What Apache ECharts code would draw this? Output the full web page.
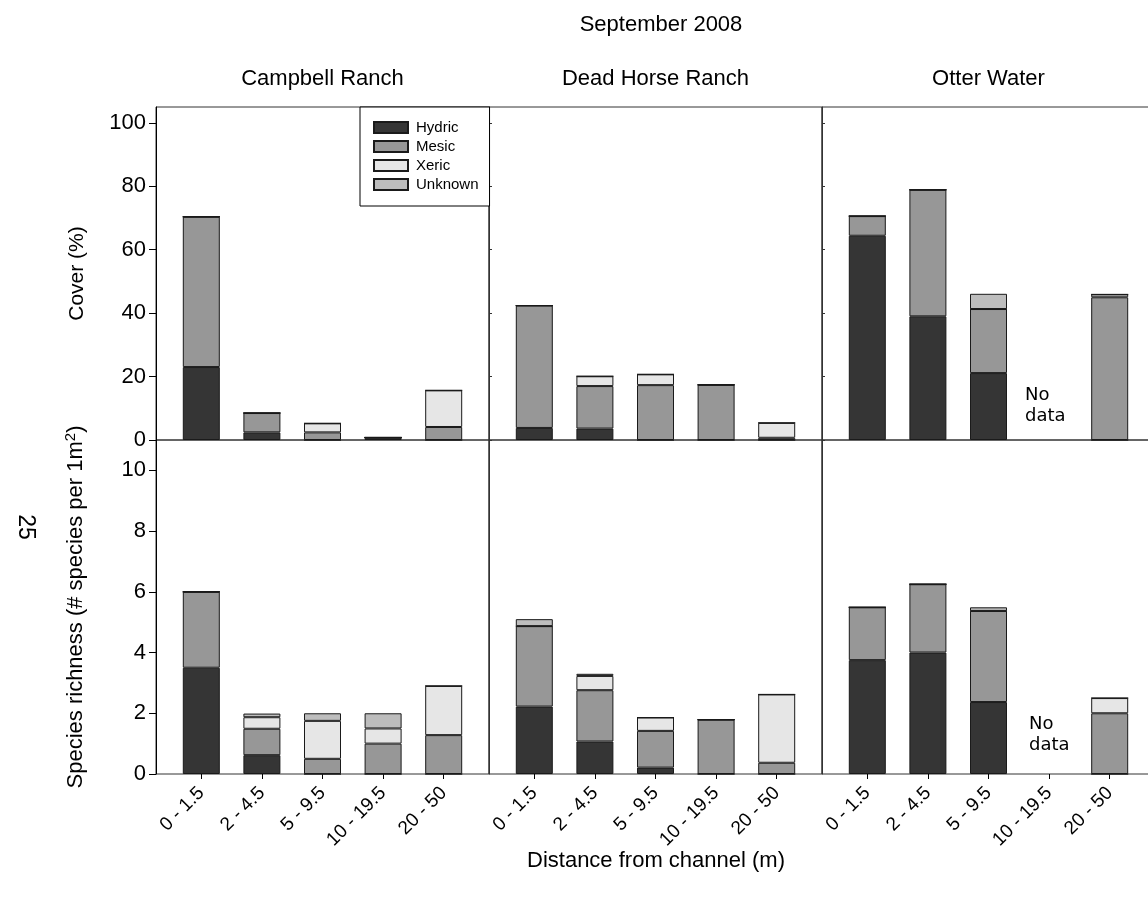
<!DOCTYPE html>
<html>
<head>
<meta charset="utf-8">
<script src="https://cdn.jsdelivr.net/npm/echarts@6/dist/echarts.min.js"></script>
<style>html,body{margin:0;padding:0;background:#fff;}#c{width:1148px;height:903px;}</style>
</head>
<body>
<div id="c"></div>
<script>
// ---- data ----
const categories = ['0 - 1.5', '2 - 4.5', '5 - 9.5', '10 - 19.5', '20 - 50'];
const sites = ['Campbell Ranch', 'Dead Horse Ranch', 'Otter Water'];
const groups = ['Hydric', 'Mesic', 'Xeric', 'Unknown'];
const coverTicks = [0, 20, 40, 60, 80, 100];
const richnessTicks = [0, 2, 4, 6, 8, 10];

// Cover (%)
const campbellCoverHydric  = [23.0, 2.4, 0, 0.8, 0];
const campbellCoverMesic   = [47.4, 6.1, 2.4, 0, 4.1];
const campbellCoverXeric   = [0, 0, 2.85, 0, 11.55];
const campbellCoverUnknown = [0, 0, 0, 0, 0];

const deadHorseCoverHydric  = [3.8, 3.6, 0, 0, 0];
const deadHorseCoverMesic   = [38.6, 13.4, 17.3, 17.4, 0.7];
const deadHorseCoverXeric   = [0, 3.1, 3.4, 0, 4.7];
const deadHorseCoverUnknown = [0, 0, 0, 0, 0];

const otterCoverHydric  = [64.4, 39.0, 21.1, null, 0];
const otterCoverMesic   = [6.2, 39.9, 20.2, null, 45.0];
const otterCoverXeric   = [0, 0, 0, null, 0.9];
const otterCoverUnknown = [0, 0, 4.8, null, 0];

// Species richness
const campbellRichHydric  = [3.5, 0.62, 0, 0, 0];
const campbellRichMesic   = [2.5, 0.87, 0.5, 1.0, 1.28];
const campbellRichXeric   = [0, 0.38, 1.25, 0.5, 1.62];
const campbellRichUnknown = [0, 0.12, 0.25, 0.5, 0];

const deadHorseRichHydric  = [2.22, 1.07, 0.21, 0, 0];
const deadHorseRichMesic   = [2.65, 1.69, 1.21, 1.79, 0.37];
const deadHorseRichXeric   = [0, 0.47, 0.44, 0, 2.25];
const deadHorseRichUnknown = [0.23, 0.07, 0, 0, 0];

const otterRichHydric  = [3.75, 4.0, 2.37, null, 0];
const otterRichMesic   = [1.74, 2.25, 3.0, null, 2.0];
const otterRichXeric   = [0, 0, 0, null, 0.5];
const otterRichUnknown = [0, 0, 0.12, null, 0];

const coverData = [
  [campbellCoverHydric, campbellCoverMesic, campbellCoverXeric, campbellCoverUnknown],
  [deadHorseCoverHydric, deadHorseCoverMesic, deadHorseCoverXeric, deadHorseCoverUnknown],
  [otterCoverHydric, otterCoverMesic, otterCoverXeric, otterCoverUnknown]
];
const richData = [
  [campbellRichHydric, campbellRichMesic, campbellRichXeric, campbellRichUnknown],
  [deadHorseRichHydric, deadHorseRichMesic, deadHorseRichXeric, deadHorseRichUnknown],
  [otterRichHydric, otterRichMesic, otterRichXeric, otterRichUnknown]
];

// ---- styling / layout ----
const colors = ['#353535', '#979797', '#e6e6e6', '#bdbdbd'];
const FONT = 'Liberation Sans, Arial, sans-serif';
const panelLeft = [156, 489, 822];
const panelW = 333;
const rows = [
  {top: 107, height: 333, max: 105, ticks: coverTicks, data: coverData},
  {top: 440, height: 334, max: 11, ticks: richnessTicks, data: richData}
];
const innerPad = 15;

const grid = [], xAxis = [], yAxis = [], series = [];
rows.forEach((row, r) => {
  panelLeft.forEach((pl, c) => {
    // frame grid
    const fi = grid.length;
    grid.push({left: pl, top: row.top, width: panelW, height: row.height,
      outerBoundsMode: 'none', containLabel: false,
      show: true, borderColor: '#333', borderWidth: 1, backgroundColor: 'transparent'});
    xAxis.push({gridIndex: fi, type: 'value', show: false, min: 0, max: 1});
    const yf = {
      gridIndex: fi, type: 'value', min: 0, max: row.max,
      splitLine: {show: false},
      axisLine: {show: true, lineStyle: {color: c === 0 ? '#000' : '#333', width: 1}},
      axisTick: c === 0
        ? {show: true, length: 7, inside: false, customValues: row.ticks, lineStyle: {color: '#000'}}
        : {show: r === 0, length: 3, inside: true, customValues: row.ticks, lineStyle: {color: '#333'}},
      axisLabel: {show: c === 0, customValues: row.ticks, fontSize: 22, fontFamily: FONT, color: '#000', margin: 10},
    };
    if (c === 0) {
      yf.nameLocation = 'middle';
      yf.nameGap = 68;
      if (r === 0) {
        yf.name = 'Cover (%)';
        yf.nameTextStyle = {fontSize: 21, fontFamily: FONT, color: '#000'};
      } else {
        yf.name = '{a|Species richness (# species per 1m}{s|2}{a|)}';
        yf.nameTextStyle = {fontFamily: FONT, color: '#000', rich: {
          a: {fontSize: 22, fontFamily: FONT, color: '#000'},
          s: {fontSize: 15, fontFamily: FONT, color: '#000', verticalAlign: 'top', padding: [0, 0, 10, 0]}
        }};
      }
    }
    yAxis.push(yf);

    // data grid
    const di = grid.length;
    grid.push({left: pl + innerPad, top: row.top, width: panelW - 2 * innerPad, height: row.height,
      outerBoundsMode: 'none', containLabel: false});
    xAxis.push({
      gridIndex: di, type: 'category', data: categories,
      axisLine: {show: false},
      axisTick: {show: r === 1, alignWithLabel: true, length: 5, lineStyle: {color: '#000'}},
      axisLabel: {show: r === 1, rotate: 45, fontSize: 19, fontFamily: FONT, color: '#000', margin: 16, interval: 0},
    });
    yAxis.push({gridIndex: di, type: 'value', min: 0, max: row.max, show: false, splitLine: {show: false}});

    groups.forEach((g, k) => {
      series.push({
        type: 'bar', name: g, xAxisIndex: di, yAxisIndex: di,
        stack: 'r' + r + 'c' + c, barWidth: 37,
        data: row.data[c][k],
        itemStyle: {color: colors[k], borderColor: '#1a1a1a', borderWidth: 1},
        emphasis: {disabled: true},
        animation: false
      });
    });
  });
});

const titles = [
  {text: 'September 2008', left: 656, top: 9, textAlign: 'center',
   textStyle: {fontSize: 22, fontWeight: 'normal', fontFamily: FONT, color: '#000'}}
];
sites.forEach((s, c) => {
  titles.push({text: s, left: panelLeft[c] + panelW / 2 - 5, top: 63, textAlign: 'center',
    textStyle: {fontSize: 22, fontWeight: 'normal', fontFamily: FONT, color: '#000'}});
});

const noDataStyle = {text: 'No\ndata', fontSize: 18, lineHeight: 21, fontFamily: 'DejaVu Sans, sans-serif', fill: '#000'};

const option = {
  backgroundColor: '#fff',
  animation: false,
  title: titles,
  legend: {
    data: groups, orient: 'vertical', left: 360, top: 107,
    itemWidth: 34, itemHeight: 11, itemGap: 4, icon: 'rect',
    padding: [13, 11, 14, 13],
    borderColor: '#000', borderWidth: 1, backgroundColor: '#fff',
    textStyle: {fontSize: 15, lineHeight: 15, fontFamily: FONT, color: '#000', padding: [0, 0, 0, 3]},
    selectedMode: false
  },
  grid, xAxis, yAxis, series,
  graphic: [
    {type: 'text', left: 1025, top: 385, style: noDataStyle},
    {type: 'text', left: 1029, top: 714, style: noDataStyle},
    {type: 'text', x: 656, y: 861,
     style: {text: 'Distance from channel (m)', fontSize: 22, fontFamily: FONT, fill: '#000', align: 'center', verticalAlign: 'middle'}},
    {type: 'text', x: 25, y: 527, rotation: -Math.PI / 2,
     style: {text: '25', fontSize: 23, fontFamily: FONT, fill: '#000', align: 'center', verticalAlign: 'middle'}}
  ]
};

const chart = echarts.init(document.getElementById('c'), null, {renderer: 'canvas'});
chart.setOption(option);
</script>
</body>
</html>
